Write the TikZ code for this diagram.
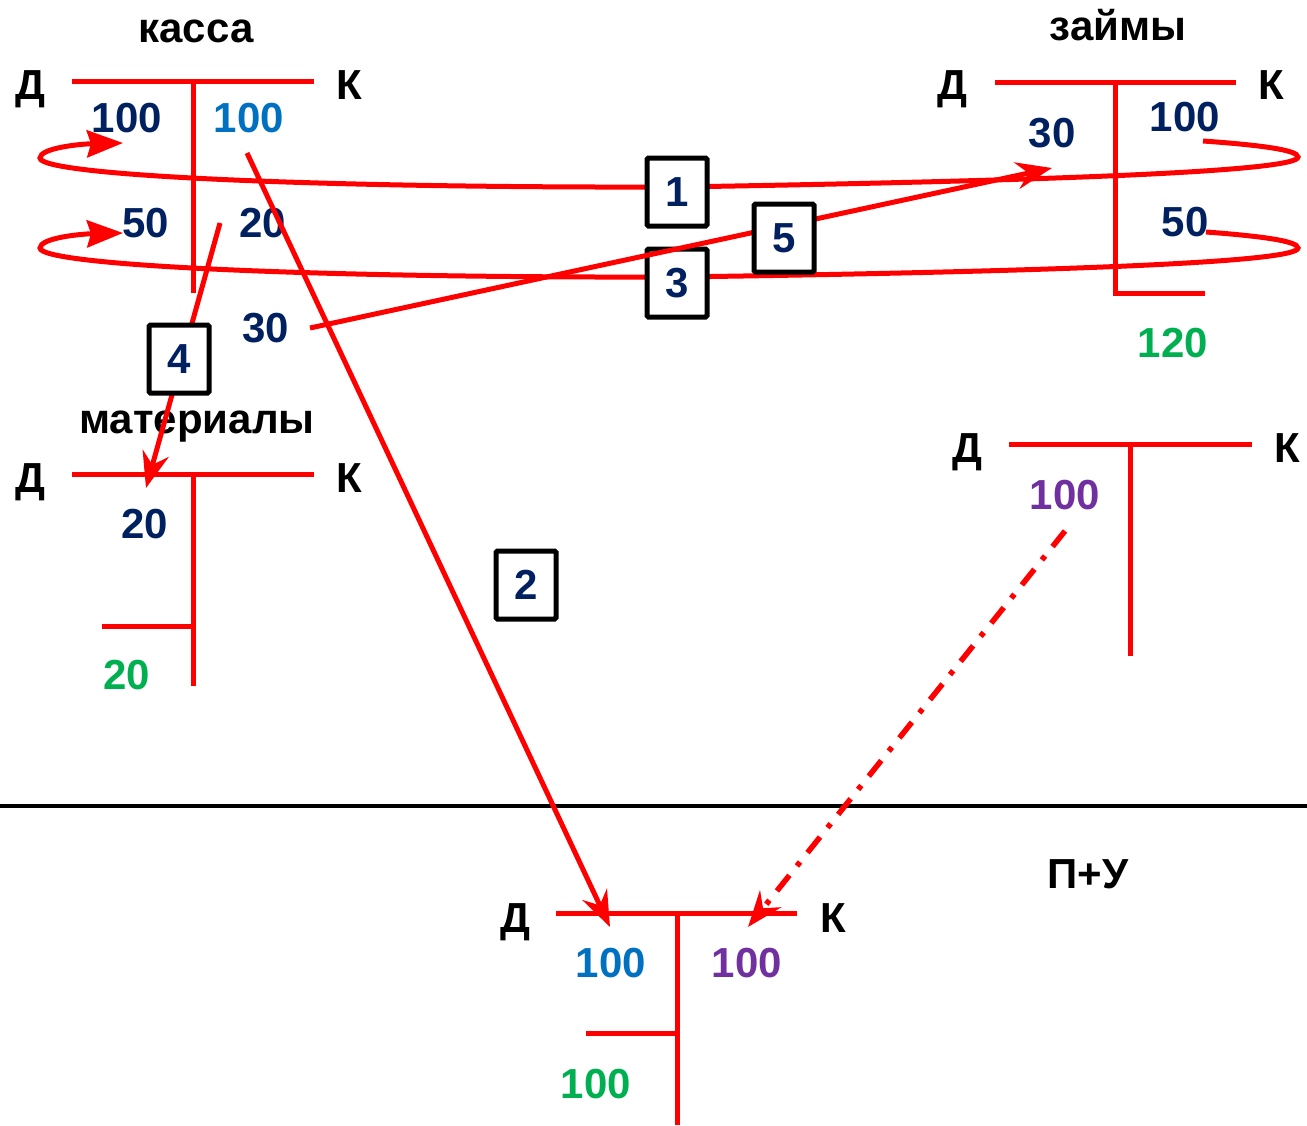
\documentclass[tikz,border=0pt]{standalone}
\usepackage{fontspec}
\setmainfont{Liberation Sans}
\usetikzlibrary{arrows.meta}
\definecolor{navy}{HTML}{002060}
\definecolor{mblue}{HTML}{0070C0}
\definecolor{mgreen}{HTML}{00B050}
\definecolor{mpurple}{HTML}{7030A0}
\definecolor{mred}{HTML}{FF0000}
\begin{document}
\begin{tikzpicture}[x=1pt,y=-1pt,
  txt/.style={inner sep=0pt, anchor=base, font=\fontsize{42}{50}\selectfont\bfseries},
  tline/.style={draw=mred, line width=5pt},
  conn/.style={draw=mred, line width=5pt, -{Stealth[length=36pt,width=27pt,inset=12pt]}},
  loopconn/.style={draw=mred, line width=5pt, -{Stealth[length=36pt,width=27pt,inset=4pt]}},
  dconn/.style={conn, line width=5.5pt, dash pattern=on 20pt off 12pt on 5pt off 12pt},
  numbox/.style={draw=black, line width=5pt, fill=white, minimum width=60pt, minimum height=68pt,
    inner sep=0pt, text=navy, font=\fontsize{42}{50}\selectfont\bfseries, rounded corners=1.5pt},
]
\useasboundingbox (0,0) rectangle (1307,1125);

% ---------- касса ----------
\node[txt] (kassa) at (196,42) {касса};
\node[txt] (kD) at (30,99) {Д};
\node[txt] (kK) at (349,99) {К};
\draw[tline] (72,81) -- (314,81);
\draw[tline] (193,81) -- (193,293);
\node[txt,text=navy] (k100) at (127,132) {100};
\node[txt,text=mblue] (k100c) at (249,132) {100};
\node[txt,text=navy] (k50) at (146,237) {50};
\node[txt,text=navy] (k20) at (263,237) {20};
\node[txt,text=navy] (k30) at (266,342) {30};

% ---------- займы ----------
\node[txt] (zaim) at (1118,40) {займы};
\node[txt] (zD) at (952,99) {Д};
\node[txt] (zK) at (1271,99) {К};
\draw[tline] (995,82) -- (1236,82);
\draw[tline] (1115,82) -- (1115,293) -- (1205,293);
\node[txt,text=navy] (z30) at (1052,147) {30};
\node[txt,text=navy] (z100) at (1185,131) {100};
\node[txt,text=navy] (z50) at (1185,236) {50};
\node[txt,text=mgreen] (z120) at (1173,357) {120};

% ---------- материалы ----------
\node[txt] (mat) at (197,433) {материалы};
\node[txt] (mD) at (30,492) {Д};
\node[txt] (mK) at (349,492) {К};
\draw[tline] (72,474) -- (314,474);
\draw[tline] (193,474) -- (193,686);
\draw[tline] (102,626) -- (193,626);
\node[txt,text=navy] (m20) at (145,538) {20};
\node[txt,text=mgreen] (m20s) at (127,689) {20};

% ---------- right account ----------
\node[txt] (rD) at (967,462) {Д};
\node[txt] (rK) at (1287,462) {К};
\draw[tline] (1009,444) -- (1252,444);
\draw[tline] (1130,444) -- (1130,656);
\node[txt,text=mpurple] (r100) at (1065,509) {100};

% ---------- separator ----------
\draw[black, line width=4.5pt] (0,806) -- (1307,806);

% ---------- П+У ----------
\node[txt] (pu) at (1088,888) {П+У};
\node[txt] (pD) at (515,932) {Д};
\node[txt] (pK) at (833,932) {К};
\draw[tline] (556,913) -- (797,913);
\draw[tline] (677,913) -- (677,1125);
\draw[tline] (586,1033) -- (677,1033);
\node[txt,text=mblue] (p100) at (611,977) {100};
\node[txt,text=mpurple] (p100c) at (747,977) {100};
\node[txt,text=mgreen] (p100s) at (596,1098) {100};

% ---------- connector end points ----------
\coordinate (l1s) at (1203,141);
\coordinate (l1e) at (123,143);
\coordinate (l2s) at (1206,232);
\coordinate (l2e) at (123,233);
\coordinate (a5s) at (310,328);
\coordinate (a5e) at (1052,168);
\coordinate (a4s) at (220,223);
\coordinate (a4e) at (146,488);
\coordinate (a2s) at (247,153);
\coordinate (a2e) at (610,927);
\coordinate (a6s) at (1065,531);
\coordinate (a6e) at (748,927);

% ---------- loops ----------
\draw[loopconn] (l1s) .. controls (1260,145) and (1298,150) .. (1298,157)
  .. controls (1298,170) and (1100,180) .. (677,187)
  .. controls (300,188) and (40,175) .. (40,158)
  .. controls (40,148) and (80,144) .. (l1e);
\draw[loopconn] (l2s) .. controls (1260,236) and (1298,241) .. (1298,248)
  .. controls (1298,261) and (1100,271) .. (677,277)
  .. controls (300,278) and (40,265) .. (40,248)
  .. controls (40,238) and (80,234) .. (l2e);

\node[numbox] (b1) at (677,192) {1};
\node[numbox] (b3) at (677,283) {3};

\draw[conn] (a5s) -- (a5e);
\node[numbox] (b5) at (784,238) {5};

\draw[conn] (a4s) -- (a4e);
\node[numbox] (b4) at (179,359) {4};

\draw[conn] (a2s) -- (a2e);
\node[numbox] (b2) at (526,585) {2};

\draw[dconn] (a6s) -- (a6e);
\end{tikzpicture}
\end{document}
